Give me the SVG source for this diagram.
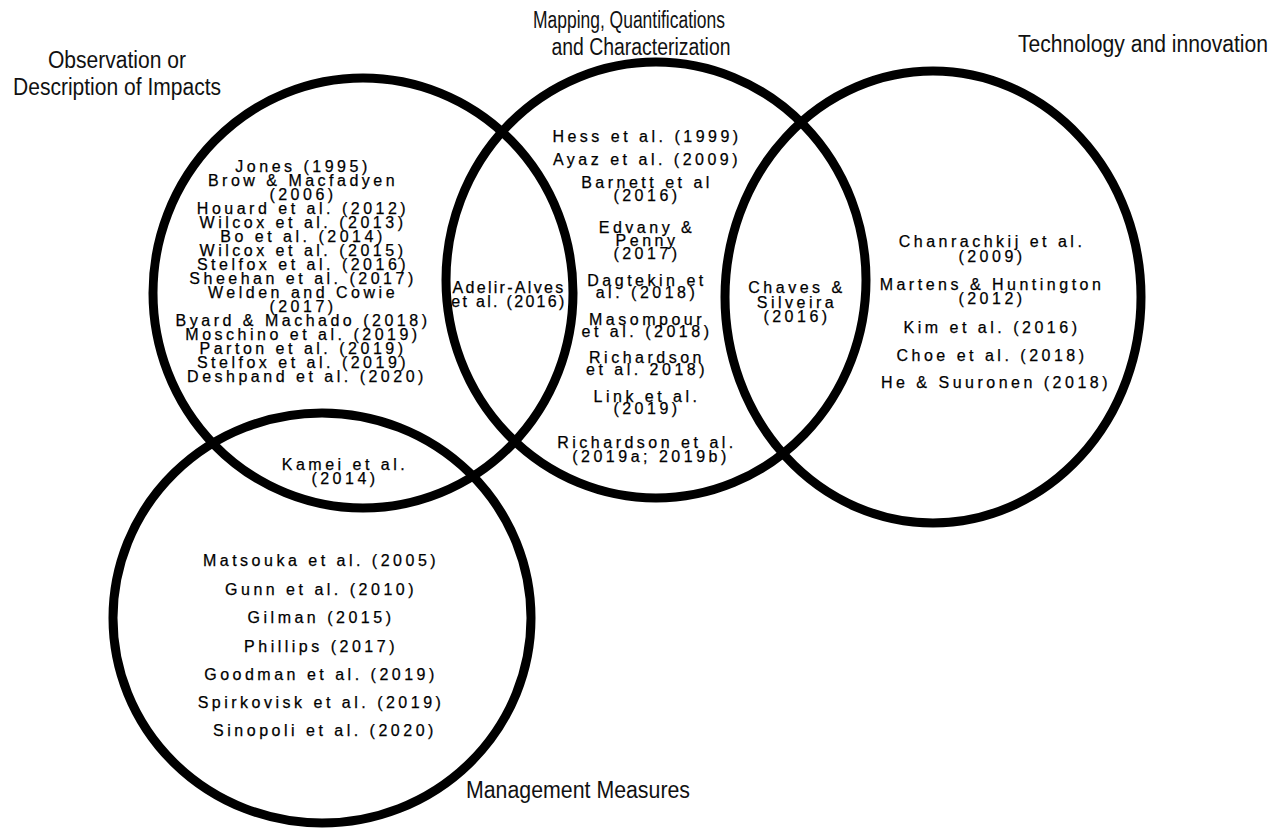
<svg xmlns="http://www.w3.org/2000/svg" width="1282" height="828" viewBox="0 0 1282 828">
<style>
.c{fill:none;stroke:#000;stroke-width:9}
.t{font-family:"Liberation Sans",Arial,sans-serif;font-size:16px;letter-spacing:3.5px;fill:#000;stroke:#000;stroke-width:0.25;text-anchor:middle}
.t2{font-family:"Liberation Sans",Arial,sans-serif;font-size:16px;letter-spacing:2.3px;fill:#000;stroke:#000;stroke-width:0.25;text-anchor:middle}
.h{font-family:"Liberation Sans",Arial,sans-serif;font-size:23px;fill:#111;text-anchor:middle}
</style>
<rect width="1282" height="828" fill="#fff"/>
<g id="connectors"></g>
<g id="observation">
<ellipse class="c" cx="363" cy="293" rx="210" ry="215"/>
<text class="h" x="117" y="68" textLength="138" lengthAdjust="spacingAndGlyphs">Observation or</text>
<text class="h" x="117" y="95" textLength="208" lengthAdjust="spacingAndGlyphs">Description of Impacts</text>
<text class="t">
<tspan x="307" y="171.7">Jones (1995)</tspan>
<tspan x="307" y="185.7">Brow &amp; Macfadyen</tspan>
<tspan x="307" y="199.8">(2006)</tspan>
<tspan x="307" y="213.9">Houard et al. (2012)</tspan>
<tspan x="307" y="227.9">Wilcox et al. (2013)</tspan>
<tspan x="307" y="241.9">Bo et al. (2014)</tspan>
<tspan x="307" y="256">Wilcox et al. (2015)</tspan>
<tspan x="307" y="270">Stelfox et al. (2016)</tspan>
<tspan x="307" y="284">Sheehan et al. (2017)</tspan>
<tspan x="307" y="298">Welden and Cowie</tspan>
<tspan x="307" y="312">(2017)</tspan>
<tspan x="307" y="326">Byard &amp; Machado (2018)</tspan>
<tspan x="307" y="340">Moschino et al. (2019)</tspan>
<tspan x="307" y="354">Parton et al. (2019)</tspan>
<tspan x="307" y="368.3">Stelfox et al. (2019)</tspan>
<tspan x="307" y="382.3">Deshpand et al. (2020)</tspan>
</text>
</g>
<g id="mapping">
<ellipse class="c" cx="656" cy="280" rx="210" ry="218"/>
<text class="h" x="629" y="28" textLength="192" lengthAdjust="spacingAndGlyphs">Mapping, Quantifications</text>
<text class="h" x="641" y="55" textLength="179" lengthAdjust="spacingAndGlyphs">and Characterization</text>
<text class="t">
<tspan x="651" y="141.7">Hess et al. (1999)</tspan>
<tspan x="651" y="165">Ayaz et al. (2009)</tspan>
<tspan x="651" y="188">Barnett et al</tspan>
<tspan x="651" y="200.7">(2016)</tspan>
<tspan x="651" y="233">Edvany &amp;</tspan>
<tspan x="651" y="246">Penny</tspan>
<tspan x="651" y="259">(2017)</tspan>
<tspan x="651" y="286">Dagtekin et</tspan>
<tspan x="651" y="298">al. (2018)</tspan>
<tspan x="651" y="325">Masompour</tspan>
<tspan x="651" y="337">et al. (2018)</tspan>
<tspan x="651" y="363">Richardson</tspan>
<tspan x="651" y="375">et al. 2018)</tspan>
<tspan x="651" y="401.7">Link et al.</tspan>
<tspan x="651" y="414">(2019)</tspan>
<tspan x="651" y="447.7">Richardson et al.</tspan>
<tspan x="651" y="461.7">(2019a; 2019b)</tspan>
</text>
</g>
<g id="technology">
<ellipse class="c" cx="933" cy="297" rx="208" ry="226"/>
<text class="h" x="1143" y="52" textLength="250" lengthAdjust="spacingAndGlyphs">Technology and innovation</text>
<text class="t">
<tspan x="996" y="246.7">Chanrachkij et al.</tspan>
<tspan x="996" y="261.7">(2009)</tspan>
<tspan x="996" y="290">Martens &amp; Huntington</tspan>
<tspan x="996" y="304">(2012)</tspan>
<tspan x="996" y="332.7">Kim et al. (2016)</tspan>
<tspan x="996" y="360.7">Choe et al. (2018)</tspan>
<tspan x="996" y="388.3">He &amp; Suuronen (2018)</tspan>
</text>
</g>
<g id="management">
<ellipse class="c" cx="322" cy="618" rx="209" ry="205"/>
<text class="h" x="578" y="798" textLength="224" lengthAdjust="spacingAndGlyphs">Management Measures</text>
<text class="t">
<tspan x="325" y="566">Matsouka et al. (2005)</tspan>
<tspan x="325" y="595">Gunn et al. (2010)</tspan>
<tspan x="325" y="623.3">Gilman (2015)</tspan>
<tspan x="325" y="651.7">Phillips (2017)</tspan>
<tspan x="325" y="680">Goodman et al. (2019)</tspan>
<tspan x="325" y="708.3">Spirkovisk et al. (2019)</tspan>
<tspan x="325" y="736">Sinopoli et al. (2020)</tspan>
</text>
</g>
<g id="overlap-observation-mapping">
<text class="t2"><tspan x="509" y="292.7">Adelir-Alves</tspan><tspan x="509" y="306.7">et al. (2016)</tspan></text>
</g>
<g id="overlap-mapping-technology">
<text class="t"><tspan x="797" y="293.3">Chaves &amp;</tspan><tspan x="797" y="307.7">Silveira</tspan><tspan x="797" y="321.7">(2016)</tspan></text>
</g>
<g id="overlap-observation-management">
<text class="t"><tspan x="345" y="470">Kamei et al.</tspan><tspan x="345" y="484.3">(2014)</tspan></text>
</g>
</svg>
